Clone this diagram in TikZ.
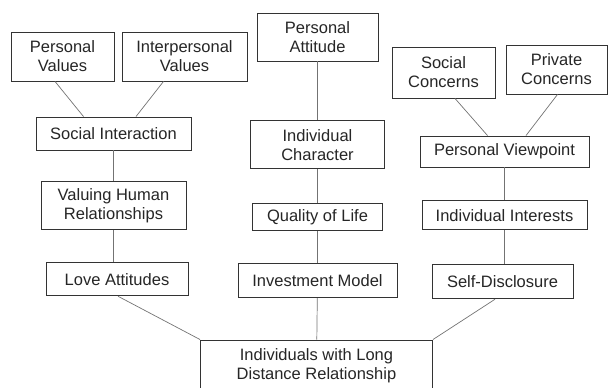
\documentclass[tikz,border=0pt]{standalone}
\usepackage{fontspec}
\setmainfont{Liberation Sans}
\usepackage{xcolor}
\usepackage{tikz}
\usetikzlibrary{positioning}
\tikzset{main node/.style={rectangle,draw=black!80,line width=0.9pt,fill=white,align=center,text=black!85,inner sep=0pt,font=\fontsize{16.5}{19}\selectfont},
link/.style={draw=black!55,line width=0.7pt},}

\begin{document}
\begin{tikzpicture}[x=1pt,y=-1pt]
    \clip (0,0) rectangle (608,388);

	\begin{scope}
    \node[main node,minimum width=103pt,minimum height=49pt] (1) at (62.5,56.5) {Personal\\Values};
    \node[main node,minimum width=125pt,minimum height=49pt] (2) at (184.5,56.5) {Interpersonal\\Values};
    \node[main node,minimum width=155pt,minimum height=33pt] (3) at (113.5,133.5) {Social Interaction};
    \node[main node,minimum width=145pt,minimum height=48pt] (4) [below = 31pt of 3] {Valuing Human\\Relationships};
    \node[main node,minimum width=142pt,minimum height=33pt] (5) [below = 32pt of 4, xshift=3.5pt] {Love Attitudes};

    \path[link]
    ([xshift=-7.5pt]1.south) edge node {} ([xshift=-30pt]3.north)
    ([xshift=-21pt]2.south) edge node {} ([xshift=22.5pt]3.north)
    (3) edge node {} (4)
    (4.south) edge node {} (4.south |- 5.north)
    ;
    \end{scope}

	\begin{scope}
    \node[main node,minimum width=121pt,minimum height=48pt] (6) at (317.5,37) {Personal\\Attitude};
    \node[main node,minimum width=134pt,minimum height=48pt] (7) [below = 59pt of 6] {Individual\\Character};
    \node[main node,minimum width=130pt,minimum height=27pt] (8) [below = 34pt of 7] {Quality of Life};
    \node[main node,minimum width=159pt,minimum height=34pt] (9) [below = 32pt of 8] {Investment Model};

    \path[link]
    (6) edge node {} (7)
    (7) edge node {} (8)
    (8) edge node {} (9)
    ;
    \end{scope}

	\begin{scope}
    \node[main node,minimum width=103pt,minimum height=51pt] (10) at (443.5,72.5) {Social\\Concerns};
    \node[main node,minimum width=101pt,minimum height=49pt] (11) at (556.5,69.5) {Private\\Concerns};
    \node[main node,minimum width=169pt,minimum height=31pt] (12) at (504.5,151.5) {Personal Viewpoint};
    \node[main node,minimum width=165pt,minimum height=29pt] (13) [below = 33pt of 12] {Individual Interests};
    \node[main node,minimum width=141pt,minimum height=34pt] (14) [below = 34pt of 13, xshift=-2pt] {Self-Disclosure};

    \path[link]
    ([xshift=11.5pt]10.south) edge node {} ([xshift=-17pt]12.north)
    ([xshift=1pt]11.south) edge node {} ([xshift=21.5pt]12.north)
    (12) edge node {} (13)
    (13.south) edge node {} (13.south |- 14.north)
    ;
    \end{scope}

    \node[main node,minimum width=232pt,minimum height=52pt] (15) at (316.5,366) {Individuals with Long\\Distance Relationship};

    \path[link]
    ([xshift=1pt]5.south) edge node {} (15.north west)
    (9) edge node {} (15)
    ([xshift=-7.5pt]14.south) edge node {} (15.north east)
    ;

	\end{tikzpicture}
\end{document}
